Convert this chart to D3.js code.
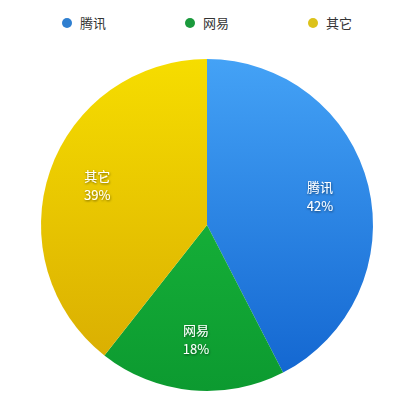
<!DOCTYPE html>
<html><head><meta charset="utf-8">
<script src="https://cdn.jsdelivr.net/npm/d3@7/dist/d3.min.js"></script>
<style>
html,body{margin:0;padding:0;background:#fff;}
svg{display:block;}
text{font-family:"Noto Sans CJK SC","Noto Sans",sans-serif;}
</style></head>
<body>
<svg id="c" width="403" height="405"></svg>
<script>
const categories = ["腾讯", "网易", "其它"];
const values = [42, 18, 39];
const labels = ["42%", "18%", "39%"];
const colorsTop = ["#44a2f6", "#1ec23f", "#f6dd00"];
const colorsBottom = ["#1164cf", "#0c9a30", "#d7aa02"];
const legendDots = ["#2f7fd0", "#1a9a3c", "#dcc21a"];

const svg = d3.select("#c");
const cx = 207, cy = 225, R = 166;

const defs = svg.append("defs");
categories.forEach((c, i) => {
  const g = defs.append("linearGradient").attr("id", "g" + i)
    .attr("gradientUnits", "userSpaceOnUse")
    .attr("x1", 0).attr("y1", -R).attr("x2", 0).attr("y2", R);
  g.append("stop").attr("offset", "0%").attr("stop-color", colorsTop[i]);
  g.append("stop").attr("offset", "100%").attr("stop-color", colorsBottom[i]);
});
const f = defs.append("filter").attr("id", "ts").attr("x", "-20%").attr("y", "-20%").attr("width", "140%").attr("height", "140%");
f.append("feDropShadow").attr("dx", 0.5).attr("dy", 1).attr("stdDeviation", 0.8).attr("flood-color", "#000").attr("flood-opacity", 0.55);

// legend
const legendX = d3.scalePoint().domain(categories).range([67, 313]);
const lg = svg.append("g");
categories.forEach((c, i) => {
  lg.append("circle").attr("cx", legendX(c)).attr("cy", 23).attr("r", 5).attr("fill", legendDots[i]);
  lg.append("text").attr("x", legendX(c) + 13).attr("y", 28).attr("font-size", 13)
    .attr("fill", "#333").text(c);
});

const pie = d3.pie().sort(null).value(d => d)(values);
const arc = d3.arc().innerRadius(0).outerRadius(R);
const labelArc = d3.arc().innerRadius(R * 0.7).outerRadius(R * 0.7);

const g = svg.append("g").attr("transform", `translate(${cx},${cy})`);
g.selectAll("path").data(pie).join("path")
  .attr("d", arc)
  .attr("fill", (d, i) => `url(#g${i})`);

const lab = g.selectAll("g.lab").data(pie).join("g").attr("class", "lab")
  .attr("transform", d => `translate(${labelArc.centroid(d)})`)
  .attr("filter", "url(#ts)");
lab.append("text").attr("text-anchor", "middle").attr("y", -6).attr("font-size", 13)
  .attr("fill", "#fff").text((d, i) => categories[i]);
lab.append("text").attr("text-anchor", "middle").attr("y", 13).attr("font-size", 13)
  .attr("fill", "#fff").text((d, i) => labels[i]);
</script>
</body></html>
